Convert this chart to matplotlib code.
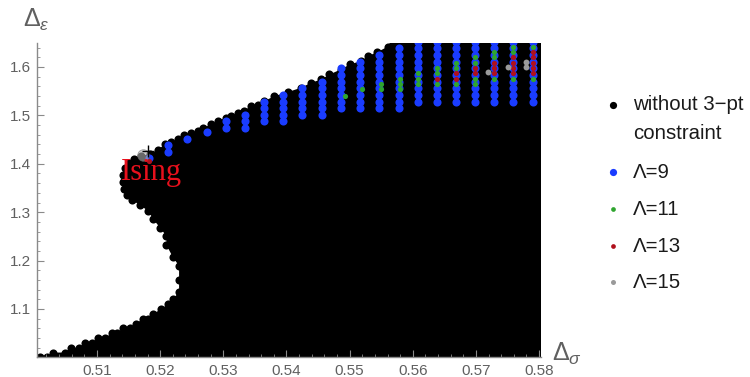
import matplotlib.pyplot as plt
from matplotlib.lines import Line2D
from matplotlib.ticker import MultipleLocator

plt.rcParams['font.family'] = ['Liberation Sans', 'DejaVu Sans']
plt.rcParams['mathtext.fontset'] = 'custom'
plt.rcParams['mathtext.rm'] = 'Liberation Sans'
plt.rcParams['mathtext.it'] = 'Liberation Sans:italic'
plt.rcParams['mathtext.fallback'] = 'stixsans'

# allowed region without the 3-pt constraint: centres of the edge points,
# from the bottom-left corner, up the left side, along the top edge
edge_sig = [0.5010, 0.5021, 0.5030, 0.5049, 0.5059, 0.5072, 0.5081, 0.5092, 0.5102, 0.5113,
            0.5123, 0.5132, 0.5141, 0.5152, 0.5162, 0.5173, 0.5181, 0.5189, 0.5202, 0.5212,
            0.5220, 0.5230, 0.5230, 0.5230, 0.5220, 0.5210, 0.5210, 0.5200, 0.5189, 0.5181,
            0.5168, 0.5155, 0.5147, 0.5143, 0.5141, 0.5141, 0.5144, 0.5151, 0.5159,
            0.5170, 0.5184, 0.5196, 0.5207, 0.5217, 0.5228, 0.5238, 0.5249, 0.5260, 0.5268,
            0.5281, 0.5291, 0.5304, 0.5312, 0.5323, 0.5333, 0.5344, 0.5355, 0.5365, 0.5381,
            0.5402, 0.5423, 0.5439, 0.5455, 0.5468, 0.5486, 0.5500, 0.5518, 0.5529, 0.5544,
            0.5560, 0.5567]
edge_eps = [1.000, 1.000, 1.010, 1.010, 1.020, 1.020, 1.030, 1.030, 1.040, 1.040,
            1.050, 1.050, 1.060, 1.060, 1.070, 1.080, 1.080, 1.090, 1.100, 1.110,
            1.120, 1.1351, 1.1601, 1.1888, 1.2074, 1.2322, 1.2508, 1.2674, 1.2860, 1.3025,
            1.3149, 1.3252, 1.3355, 1.3479, 1.3624, 1.3769, 1.3913, 1.4017, 1.4099,
            1.4165, 1.4202, 1.4283, 1.4399, 1.4450, 1.4502, 1.4605, 1.4636, 1.4676, 1.4744,
            1.4812, 1.4882, 1.4950, 1.4986, 1.5054, 1.5101, 1.5192, 1.5225, 1.5295, 1.5399,
            1.5481, 1.5570, 1.5674, 1.5742, 1.5845, 1.5948, 1.6052, 1.6122, 1.6225, 1.6308,
            1.6417, 1.6558]

# Lambda=9 points: columns of the grid, each one a run of eps levels
eps_levels = [1.4126, 1.4250, 1.4388, 1.4512, 1.4651, 1.4746, 1.4884, 1.5015, 1.5147, 1.5283,
              1.5421, 1.5560, 1.5697, 1.5835, 1.5972, 1.6110, 1.6248, 1.6386, 1.6524]
blue_sig = [0.5183, 0.5213, 0.5243, 0.5274, 0.5304, 0.5334, 0.5364, 0.5394, 0.5425, 0.5456,
            0.5487, 0.5517, 0.5547, 0.5578, 0.5608, 0.5638, 0.5669, 0.5699, 0.5729, 0.5759,
            0.5790]
blue_lo = [0, 1, 3, 4, 5, 5, 6, 6, 7, 7, 8, 8, 8, 8, 9, 9, 9, 9, 9, 9, 9]
blue_hi = [0, 2, 3, 4, 6, 7, 9, 10, 11, 12, 14, 15, 16, 17, 18, 18, 18, 18, 18, 18, 18]

# Lambda=11
green_sig = [0.5492, 0.5520, 0.5550, 0.5550, 0.5580, 0.5580, 0.5580, 0.5608, 0.5608, 0.5608,
             0.5638, 0.5638, 0.5638, 0.5669, 0.5669, 0.5669, 0.5699, 0.5699, 0.5699, 0.5699,
             0.5729, 0.5729, 0.5729, 0.5759, 0.5759, 0.5759, 0.5790, 0.5790]
green_eps = [1.5407, 1.5539, 1.5649, 1.5539, 1.5746, 1.5643, 1.5539, 1.5870, 1.5746, 1.5643,
             1.5973, 1.5870, 1.5643, 1.6076, 1.5973, 1.5643, 1.6213, 1.6076, 1.5746, 1.5643,
             1.6316, 1.6213, 1.5746, 1.6419, 1.6316, 1.5746, 1.6419, 1.5746]

# Lambda=13
red_sig = [0.5183, 0.5638, 0.5669, 0.5669, 0.5699, 0.5699, 0.5729, 0.5729, 0.5729,
           0.5759, 0.5759, 0.5759, 0.5759, 0.5790, 0.5790, 0.5790, 0.5790, 0.5790]
red_eps = [1.4057, 1.5746, 1.5870, 1.5746, 1.5973, 1.5870, 1.6076, 1.5973, 1.5870,
           1.6213, 1.6076, 1.5973, 1.5870, 1.6316, 1.6213, 1.6076, 1.5973, 1.5870]

# Lambda=15
gray_sig = [0.5719, 0.5750, 0.5780, 0.5780]
gray_eps = [1.5903, 1.6007, 1.6110, 1.6007]

x_ticks = [0.51, 0.52, 0.53, 0.54, 0.55, 0.56, 0.57, 0.58]
y_ticks = [1.1, 1.2, 1.3, 1.4, 1.5, 1.6]

blue = '#1a3cff'
green = '#2fa52f'
red = '#b0101c'
gray = '#9a9a9a'
axis_gray = '#8a8a8a'
text_gray = '#606060'

fig = plt.figure(figsize=(7.5, 3.77), dpi=100)
ax = fig.add_axes([0.0493, 0.052, 0.672, 0.8345])

# black region: filled interior plus the edge dots
poly_x = edge_sig + [0.59, 0.59, edge_sig[0]]
poly_y = edge_eps + [1.67, 0.98, 0.98]
ax.fill(poly_x, poly_y, color='black', lw=0, zorder=1)
ax.scatter(edge_sig, edge_eps, s=34, color='black', lw=0, zorder=1.1)

bx, by = [], []
for x, lo, hi in zip(blue_sig, blue_lo, blue_hi):
    for k in range(lo, hi + 1):
        bx.append(x)
        by.append(eps_levels[k])
ax.scatter(bx, by, s=34, color=blue, lw=0, zorder=1.5)
ax.scatter(green_sig, green_eps, s=14, color=green, lw=0, zorder=1.6)
ax.scatter(red_sig, red_eps, s=14, color=red, lw=0, zorder=1.7)
ax.scatter(gray_sig, gray_eps, s=18, color=gray, lw=0, zorder=1.8)

# Ising point marker and label
ax.scatter([0.5173], [1.418], s=70, facecolor='#b0b0b0', edgecolor='#707070',
           alpha=0.6, lw=0.6, zorder=1.9)
ax.plot([0.5180], [1.4264], marker='+', ms=9, mew=1.0, color='black', zorder=2)
ax.text(0.51375, 1.3665, 'Ising', family=['Liberation Serif', 'DejaVu Serif'],
        size=22, color='#e8101c', ha='left', va='baseline', zorder=3)

ax.set_xlim(0.5005, 0.5803)
ax.set_ylim(1.0, 1.65)
ax.set_xticks(x_ticks)
ax.set_xticklabels([f'{v:.2f}' for v in x_ticks])
ax.set_yticks(y_ticks)
ax.set_yticklabels([f'{v:.1f}' for v in y_ticks])
ax.xaxis.set_minor_locator(MultipleLocator(0.002))
ax.yaxis.set_minor_locator(MultipleLocator(0.02))
ax.set_axisbelow(False)
for side in ['top', 'right']:
    ax.spines[side].set_visible(False)
for side in ['left', 'bottom']:
    ax.spines[side].set_color(axis_gray)
    ax.spines[side].set_linewidth(1.0)
ax.tick_params(which='major', direction='in', length=5, width=0.8, color=axis_gray,
               labelcolor=text_gray, labelsize=11)
ax.tick_params(which='minor', direction='in', length=2.5, width=0.6, color=axis_gray)
ax.tick_params(axis='x', pad=5)
ax.tick_params(axis='y', pad=4)
ax.patch.set_alpha(0)

fig.text(23 / 750, 1 - 20 / 377, r'$\Delta_\epsilon$', size=18, color=text_gray,
         ha='left', va='center')
fig.text(552 / 750, 1 - 354 / 377, r'$\Delta_\sigma$', size=18, color=text_gray,
         ha='left', va='center')

# legend
lx, tx = 613 / 750, 633 / 750
rows = [
    (105, 'black', 5.2, 'without 3\u2212pt'),
    (172, blue, 5.2, '\u039b=9'),
    (209, green, 3.4, '\u039b=11'),
    (246, red, 3.4, '\u039b=13'),
    (282, gray, 3.6, '\u039b=15'),
]
for py, col, ms, lab in rows:
    y = 1 - py / 377
    fig.add_artist(Line2D([lx], [y], marker='o', ms=ms, mew=0, color=col,
                          transform=fig.transFigure))
    fig.text(tx, y, lab, size=14.7, color='#1a1a1a', ha='left', va='center')
fig.text(tx, 1 - 133 / 377, 'constraint', size=14.7, color='#1a1a1a', ha='left', va='center')

fig.savefig('out.png', dpi=100)
